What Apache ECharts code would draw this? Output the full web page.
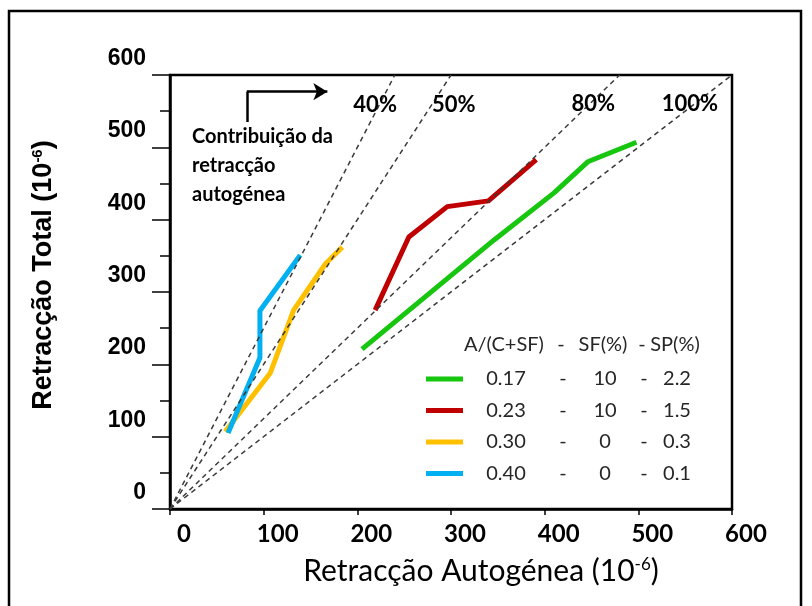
<!DOCTYPE html>
<html>
<head>
<meta charset="utf-8">
<script src="https://cdn.jsdelivr.net/npm/echarts@6/dist/echarts.min.js"></script>
<style>
html, body { margin: 0; padding: 0; background: #fff; }
#chart { width: 812px; height: 606px; }
</style>
</head>
<body>
<div id="chart"></div>
<script>
// mixes: A/(C+SF) - SF(%) - SP(%)
var mixNames = ['0.17', '0.23', '0.30', '0.40'];
var sfValues = ['10', '10', '0', '0'];
var spValues = ['2.2', '1.5', '0.3', '0.1'];
var mixColors = ['#17c60f', '#c00000', '#ffc000', '#00b0f0'];

// autogenous (x) vs total (y) shrinkage, 10^-6
var greenX = [205, 346, 410, 446, 498];
var greenY = [221, 372, 437, 480, 507];
var redX = [219, 255, 296, 340, 391];
var redY = [275, 376, 418, 426, 483];
var orangeX = [59, 107, 132, 166, 184];
var orangeY = [107, 188, 275, 339, 362];
var blueX = [62, 96, 96, 139];
var blueY = [105, 209, 274, 351];

// reference lines (autogenous share of total)
var refLabels = ['40%', '50%', '80%', '100%'];
var refEndX = [240, 300, 480, 600];
var refEndY = [600, 600, 600, 600];
var refLabelX = [219, 303, 452, 555];
var refLabelY = [558, 558, 560, 560];

// arrow "Contribuição da retracção autogénea"
var arrowX = [82, 82, 168];
var arrowY = [535, 577, 577];

function pts(xs, ys) {
	var out = [];
	for (var i = 0; i < xs.length; i++) out.push([xs[i], ys[i]]);
	return out;
}

var mixX = [greenX, redX, orangeX, blueX];
var mixY = [greenY, redY, orangeY, blueY];

var colRich = {
	a: { width: 76, align: 'center' },
	b: { width: 38, align: 'center' },
	c: { width: 46, align: 'center' },
	d: { width: 32, align: 'center' },
	e: { width: 34, align: 'center' }
};

var myChart = echarts.init(document.getElementById('chart'));

var series = [];
for (var i = 0; i < mixNames.length; i++) {
	series.push({
		name: mixNames[i],
		type: 'line',
		data: pts(mixX[i], mixY[i]),
		symbol: 'none',
		z: 2,
		lineStyle: { color: mixColors[i], width: 5, join: 'round' },
		itemStyle: { color: mixColors[i] }
	});
}
for (var j = 0; j < refLabels.length; j++) {
	series.push({
		type: 'line',
		data: [[0, 0], [refEndX[j], refEndY[j]]],
		symbol: 'none',
		silent: true,
		z: 3,
		lineStyle: { color: '#3a3a3a', width: 1.5, type: [5, 4] }
	});
}
series.push({
	type: 'scatter',
	symbolSize: 0,
	silent: true,
	z: 4,
	itemStyle: { opacity: 1 },
	data: refLabels.map(function (t, k) { return { name: t, value: [refLabelX[k], refLabelY[k]] }; }),
	label: {
		show: true, position: 'inside', formatter: '{b}', opacity: 1,
		fontFamily: 'Lato', fontWeight: 'bold', fontSize: 22, color: '#000'
	},
	markLine: {
		silent: true,
		symbol: ['none', 'none'],
		label: { show: false },
		lineStyle: { color: '#000', width: 2.5, type: 'solid', opacity: 1 },
		data: [
			[{ coord: [arrowX[0], arrowY[0]] }, { coord: [arrowX[1], arrowY[1]] }],
			[{ coord: [arrowX[1], arrowY[1]] }, { coord: [arrowX[2], arrowY[2]], symbol: 'arrow', symbolSize: [13, 14] }]
		]
	}
});

var option = {
	animation: false,
	backgroundColor: '#fff',
	grid: {
		left: 170, right: 80, top: 75, bottom: 97,
		show: true, borderColor: '#000', borderWidth: 2.5
	},
	legend: {
		data: mixNames,
		orient: 'vertical',
		left: 421,
		top: 363,
		icon: 'rect',
		itemWidth: 37,
		itemHeight: 5,
		itemGap: 9.5,
		selectedMode: false,
		formatter: function (name) {
			var k = mixNames.indexOf(name);
			return '{a|' + name + '}{b|-}{c|' + sfValues[k] + '}{d|-}{e|' + spValues[k] + '}';
		},
		textStyle: { fontFamily: 'Lato', fontSize: 20, color: '#262626', lineHeight: 22, rich: colRich }
	},
	xAxis: {
		type: 'value',
		min: 0, max: 600, interval: 100,
		name: '{n|Retracção Autogénea (10}{s|-6}{n|)}',
		nameLocation: 'middle',
		nameGap: 47,
		nameTextStyle: {
			color: '#000',
			padding: [0, 0, 0, 60],
			rich: {
				n: { fontFamily: 'Lato', fontSize: 30, color: '#000' },
				s: { fontFamily: 'Lato', fontSize: 17, color: '#000', verticalAlign: 'top' }
			}
		},
		splitLine: { show: false },
		axisLine: { lineStyle: { color: '#000', width: 2.5 } },
		axisTick: { length: 6, lineStyle: { color: '#000', width: 1.5 } },
		axisLabel: {
			margin: 13, padding: [0, 0, 0, 28],
			fontFamily: 'Lato', fontWeight: 'bold', fontSize: 24, color: '#000'
		}
	},
	yAxis: {
		type: 'value',
		min: 0, max: 600, interval: 100,
		name: '{n|Retracção Total (10}{s|-6}{n|)}',
		nameLocation: 'middle',
		nameRotate: 90,
		nameGap: 113,
		nameTextStyle: {
			color: '#000',
			padding: [0, 0, 0, 34],
			rich: {
				n: { fontFamily: 'Liberation Sans', fontWeight: 'bold', fontSize: 27, color: '#000' },
				s: { fontFamily: 'Liberation Sans', fontWeight: 'bold', fontSize: 15, color: '#000', verticalAlign: 'top' }
			}
		},
		splitLine: { show: false },
		axisLine: { lineStyle: { color: '#000', width: 2.5 } },
		axisTick: { length: 18, lineStyle: { color: '#000', width: 1.5 } },
		minorTick: { show: true, splitNumber: 2, length: 10, lineStyle: { color: '#000', width: 1.5 } },
		axisLabel: {
			margin: 24, verticalAlign: 'bottom', lineHeight: 33,
			fontFamily: 'Liberation Sans', fontWeight: 'bold', fontSize: 23, color: '#000'
		}
	},
	graphic: [
		{
			type: 'rect', silent: true,
			shape: { x: 9, y: 11, width: 792, height: 640 },
			style: { fill: 'none', stroke: '#000', lineWidth: 2.5 }
		},
		{
			type: 'text', silent: true, left: 192, top: 122,
			style: { text: 'Contribuição da\nretracção\nautogénea', font: 'bold 20px Lato', lineHeight: 29, fill: '#000' }
		},
		{
			type: 'text', silent: true, left: 464, top: 334,
			style: {
				text: '{a|A/(C+SF)}{b|-}{c|SF(%)}{d|-}{e|SP(%)}',
				font: '20px Lato', fill: '#262626', lineHeight: 22, rich: colRich
			}
		}
	],
	series: series
};

myChart.setOption(option);
</script>
</body>
</html>
